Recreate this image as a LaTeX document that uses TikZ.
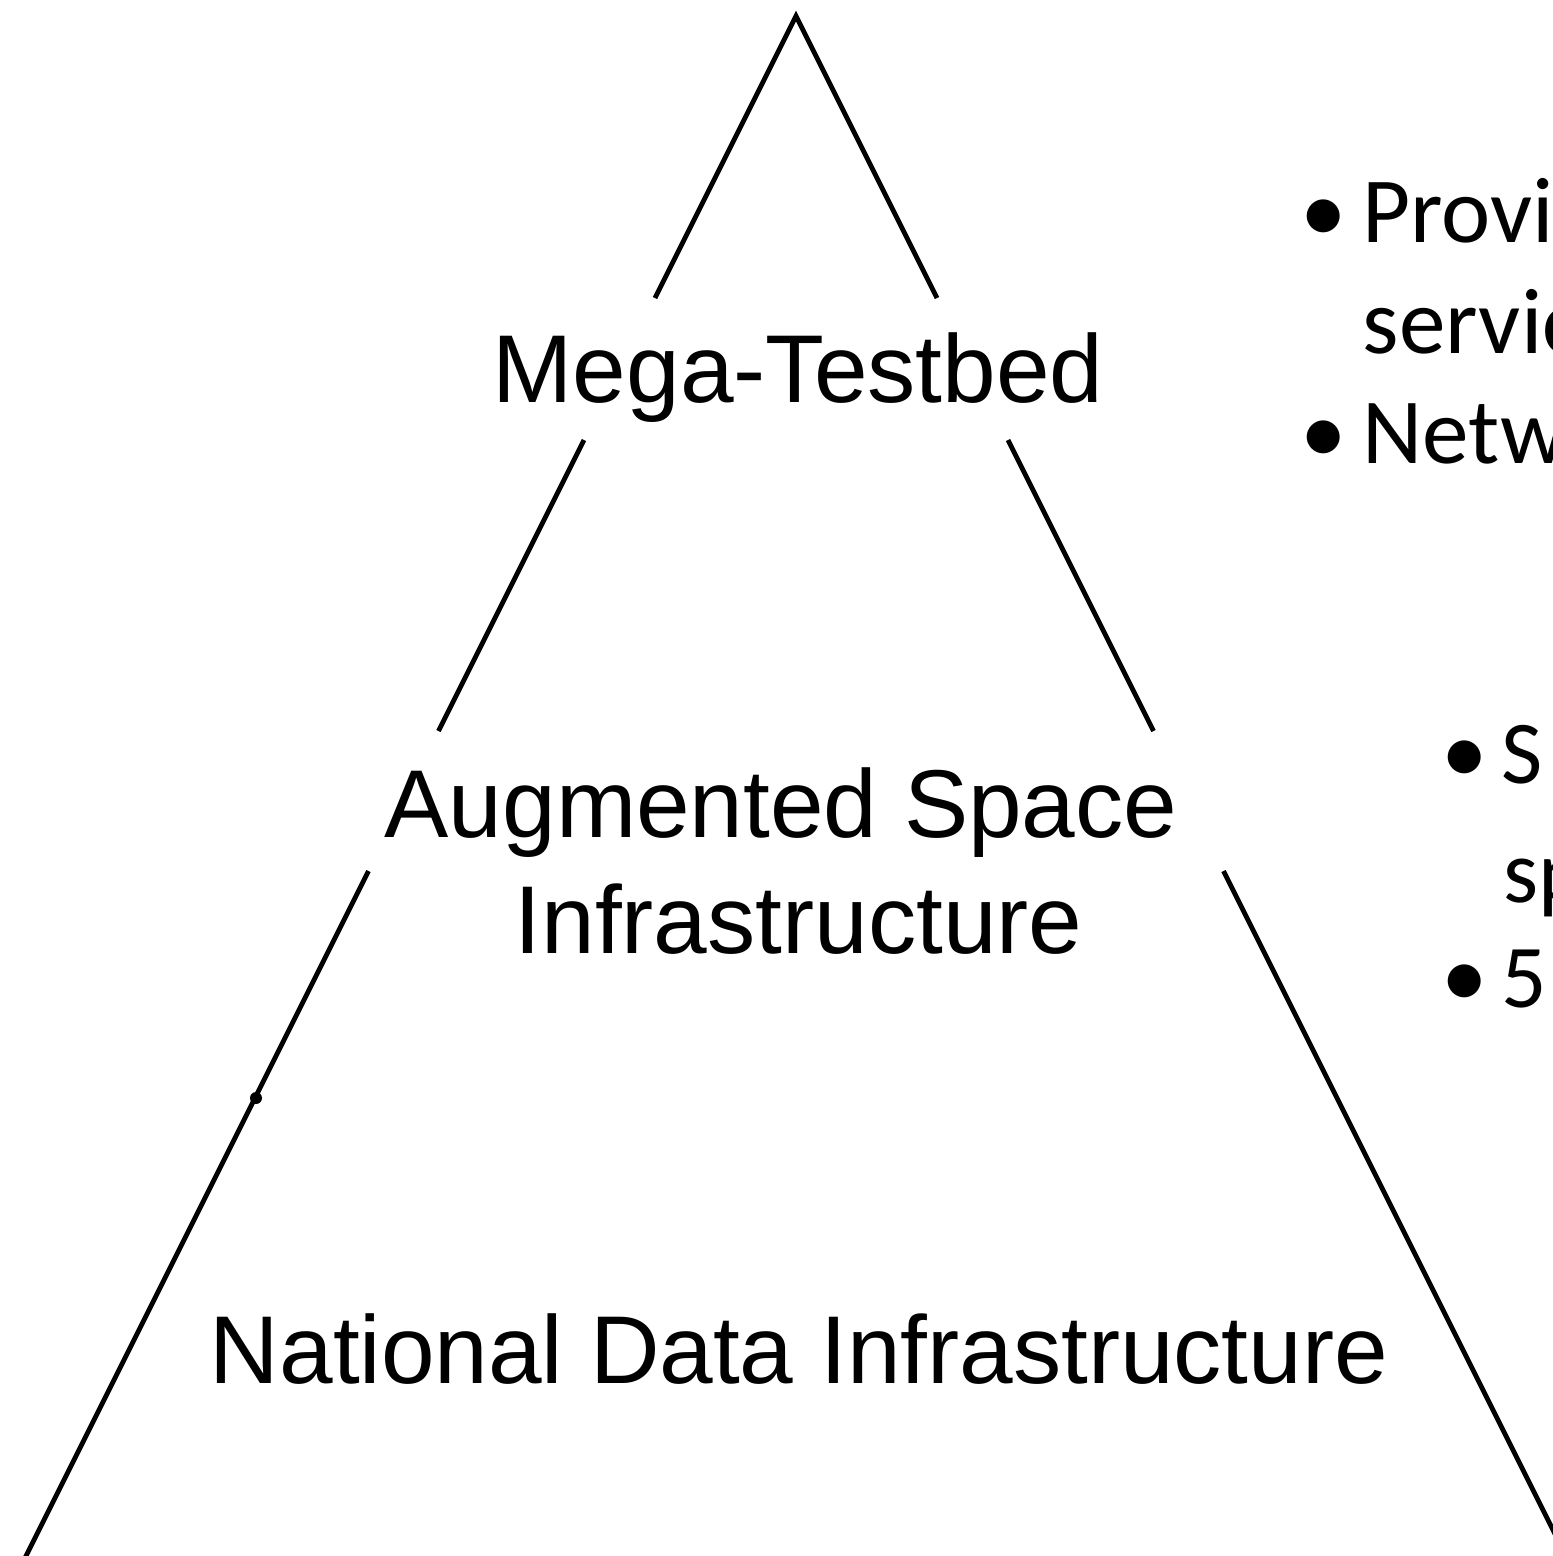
\documentclass[tikz,border=0pt]{standalone}
\usepackage{fontspec}
\setmainfont{Liberation Sans}
\newfontfamily\bulletfont{Carlito}
\usepackage{tikz}

\tikzset{
    side/.style={line width=1.35pt, line join=miter},
    layer/.style={inner sep=0pt, anchor=base, font=\fontsize{27.4}{33}\selectfont},
    itemdot/.style={inner sep=0pt, anchor=base, font=\bulletfont\fontsize{26.5}{32}\selectfont},
    itemtext/.style={inner sep=0pt, anchor=base west, font=\bulletfont\fontsize{26.5}{32}\selectfont},
    itemtextb/.style={inner sep=0pt, anchor=base west, font=\bulletfont\fontsize{25.5}{31}\selectfont}
}

\begin{document}
\begin{tikzpicture}[x=0.01cm, y=-0.01cm]
    \clip (0,0) rectangle (1553,1556);

    % Triangle sides, broken where the layer names sit
    \coordinate (apex) at (796,16);
    \draw[side] (655,298) -- (apex) -- (937,298);
    \draw[side] (584,440) -- (438.5,731);
    \draw[side] (1008,440) -- (1153.5,731);
    \draw[side] (368.5,871) -- (19,1570);
    \draw[side] (1223.5,871) -- (1573,1570);

    % Small mark on the left side
    \fill (256,1098) circle (6);

    % Layer names
    \node[layer] (mega) at (798,402) {Mega-Testbed};
    \node[layer] (augA) at (781,837) {Augmented Space};
    \node[layer] (augB) at (798.5,953) {Infrastructure};
    \node[layer] (ndi) at (799,1383) {National Data Infrastructure};

    % Bullets for the top layer
    \node[itemdot] (d1) at (1324,242) {•};
    \node[itemtext] (t1) at (1362,242) {Provi};
    \node[itemtext] (t2) at (1362,353) {servic};
    \node[itemdot] (d2) at (1324,463) {•};
    \node[itemtext] (t3) at (1362,463) {Netw};

    % Bullets for the middle layer
    \node[itemdot] (d3) at (1465,783) {•};
    \node[itemtextb] (t4) at (1501,783) {S};
    \node[itemtextb] (t5) at (1503,902) {sp};
    \node[itemdot] (d4) at (1465,1007) {•};
    \node[itemtextb] (t6) at (1501,1007) {5};
\end{tikzpicture}
\end{document}
